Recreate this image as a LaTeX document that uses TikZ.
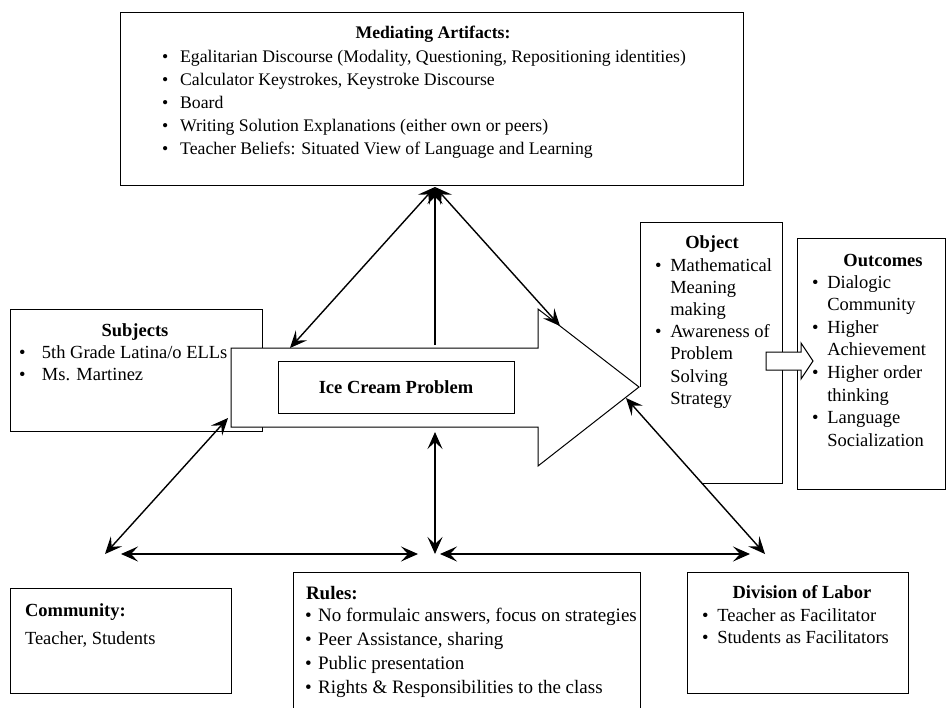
\documentclass[tikz,border=0pt]{standalone}
\usepackage{fontspec}
\setmainfont{Liberation Serif}
\usetikzlibrary{arrows.meta}
\newcommand{\fsA}{\fontsize{17.7}{23}\selectfont}
\newcommand{\fsT}{\fontsize{18.5}{23}\selectfont}
\newcommand{\fsB}{\fontsize{18.5}{22}\selectfont}
\newcommand{\fsO}{\fontsize{18.5}{22.2}\selectfont}
\newcommand{\fsC}{\fontsize{18.5}{22.6}\selectfont}
\newcommand{\fsD}{\fontsize{19}{24}\selectfont}
\begin{document}
\begin{tikzpicture}[x=1pt,y=-1pt,
  box/.style={draw, line width=1pt, inner sep=0pt, outer sep=0pt, anchor=north west},
  txt/.style={inner sep=0pt, outer sep=0pt, anchor=base west},
  ttl/.style={inner sep=0pt, outer sep=0pt, anchor=base, font=\fsT\bfseries},
  conn/.style={line width=1.4pt, {Stealth[length=17pt, width=15pt, inset=7pt]}-{Stealth[length=17pt, width=15pt, inset=7pt]}},
  conn1/.style={line width=1.4pt, -{Stealth[length=17pt, width=15pt, inset=7pt]}}
]
\useasboundingbox (0,0) rectangle (947,707);

% ---------- Mediating Artifacts ----------
\node[box, minimum width=623pt, minimum height=173pt] (med) at (120,12) {};
\node[ttl, font=\fsA\bfseries] (medt) at (433,38) {Mediating Artifacts:};
\node[txt, font=\fsA] (medl) at (162,62) {\begin{tabular}[t]{@{}l@{\hspace{12pt}}l@{}}
\textbullet & Egalitarian Discourse (Modality, Questioning, Repositioning identities)\\
\textbullet & Calculator Keystrokes, Keystroke Discourse\\
\textbullet & Board\\
\textbullet & Writing Solution Explanations (either own or peers)\\
\textbullet & Teacher Beliefs: Situated View of Language and Learning
\end{tabular}};

% ---------- Subjects ----------
\node[box, minimum width=252pt, minimum height=122pt] (subj) at (10,309) {};
\node[ttl] (subjt) at (135,336) {Subjects};
\node[txt, font=\fsB] (subjl) at (19,358) {\begin{tabular}[t]{@{}l@{\hspace{16.5pt}}l@{}}
\textbullet & 5th Grade Latina/o ELLs\\
\textbullet & Ms. Martinez
\end{tabular}};

% ---------- Object (partly hidden) ----------
\draw[line width=1pt] (703,483) -- (782,483) -- (782,222) -- (640,222) -- (640,387);
\node[ttl] (objt) at (712,248) {Object};
\node[txt, font=\fsO] (objl) at (655,271) {\begin{tabular}[t]{@{}l@{\hspace{8.8pt}}l@{}}
\textbullet & Mathematical\\
 & Meaning\\
 & making\\
\textbullet & Awareness of\\
 & Problem\\
 & Solving\\
 & Strategy
\end{tabular}};

% ---------- Outcomes ----------
\node[box, minimum width=148pt, minimum height=251pt] (outc) at (797,238) {};
\node[ttl] (outct) at (883,266) {Outcomes};
\node[txt, font=\fsC] (outcl) at (812,288) {\begin{tabular}[t]{@{}l@{\hspace{8.8pt}}l@{}}
\textbullet & Dialogic\\
 & Community\\
\textbullet & Higher\\
 & Achievement\\
\textbullet & Higher order\\
 & thinking\\
\textbullet & Language\\
 & Socialization
\end{tabular}};

% hollow arrow Object -> Outcomes
\draw[line width=1pt, fill=white] (766,352) -- (801,352) -- (801,343) -- (813,361) -- (801,379) -- (801,370) -- (766,370) -- cycle;

% ---------- Big arrow with Ice Cream Problem ----------
\draw[line width=1pt, fill=white] (231,348) -- (538,348) -- (538,309) -- (639,387) -- (538,466) -- (538,427) -- (231,427) -- cycle;
\node[box, minimum width=236pt, minimum height=52pt] (ice) at (278,361) {};
\node[font=\fsT\bfseries, inner sep=0pt] (icet) at (396,387) {Ice Cream Problem};

% ---------- Community ----------
\node[box, minimum width=221pt, minimum height=105pt] (comm) at (10,588) {};
\node[txt, font=\fsT\bfseries] (commt) at (25,616) {Community:};
\node[txt, font=\fsT] (comml) at (25,644) {Teacher, Students};

% ---------- Rules ----------
\draw[line width=1pt] (293,712) -- (293,572) -- (640,572) -- (640,712);
\node[txt, font=\fsD\bfseries] (rulest) at (306,599) {Rules:};
\node[txt, font=\fsD] (rulesl) at (305,621) {\begin{tabular}[t]{@{}l@{\hspace{6.5pt}}l@{}}
\textbullet & No formulaic answers, focus on strategies\\
\textbullet & Peer Assistance, sharing\\
\textbullet & Public presentation\\
\textbullet & Rights \& Responsibilities to the class
\end{tabular}};

% ---------- Division of Labor ----------
\node[box, minimum width=221pt, minimum height=121pt] (divl) at (687,572) {};
\node[ttl] (divt) at (802,598) {Division of Labor};
\node[txt, font=\fsB] (divll) at (702,621) {\begin{tabular}[t]{@{}l@{\hspace{8.8pt}}l@{}}
\textbullet & Teacher as Facilitator\\
\textbullet & Students as Facilitators
\end{tabular}};

% ---------- connector points ----------
\coordinate (apex) at (435,187);
\coordinate (artL) at (290,348);
\coordinate (artM) at (435,345);
\coordinate (artR) at (560,326);
\coordinate (artBL) at (228,418);
\coordinate (artB) at (435,432);
\coordinate (artBR) at (626,398);
\coordinate (pComm) at (105,554);
\coordinate (pRules) at (435,554);
\coordinate (pDiv) at (765,554);

% ---------- connectors ----------
\draw[conn] (artL) -- (apex);
\draw[conn1] (artM) -- (apex);
\draw[conn] (artR) -- (apex);
\draw[conn] (artBL) -- (pComm);
\draw[conn] (artB) -- (pRules);
\draw[conn] (artBR) -- (pDiv);
\draw[conn, shorten <=16pt, shorten >=17pt] (pComm) -- (pRules);
\draw[conn, shorten <=5pt, shorten >=15pt] (pRules) -- (pDiv);
\end{tikzpicture}
\end{document}
